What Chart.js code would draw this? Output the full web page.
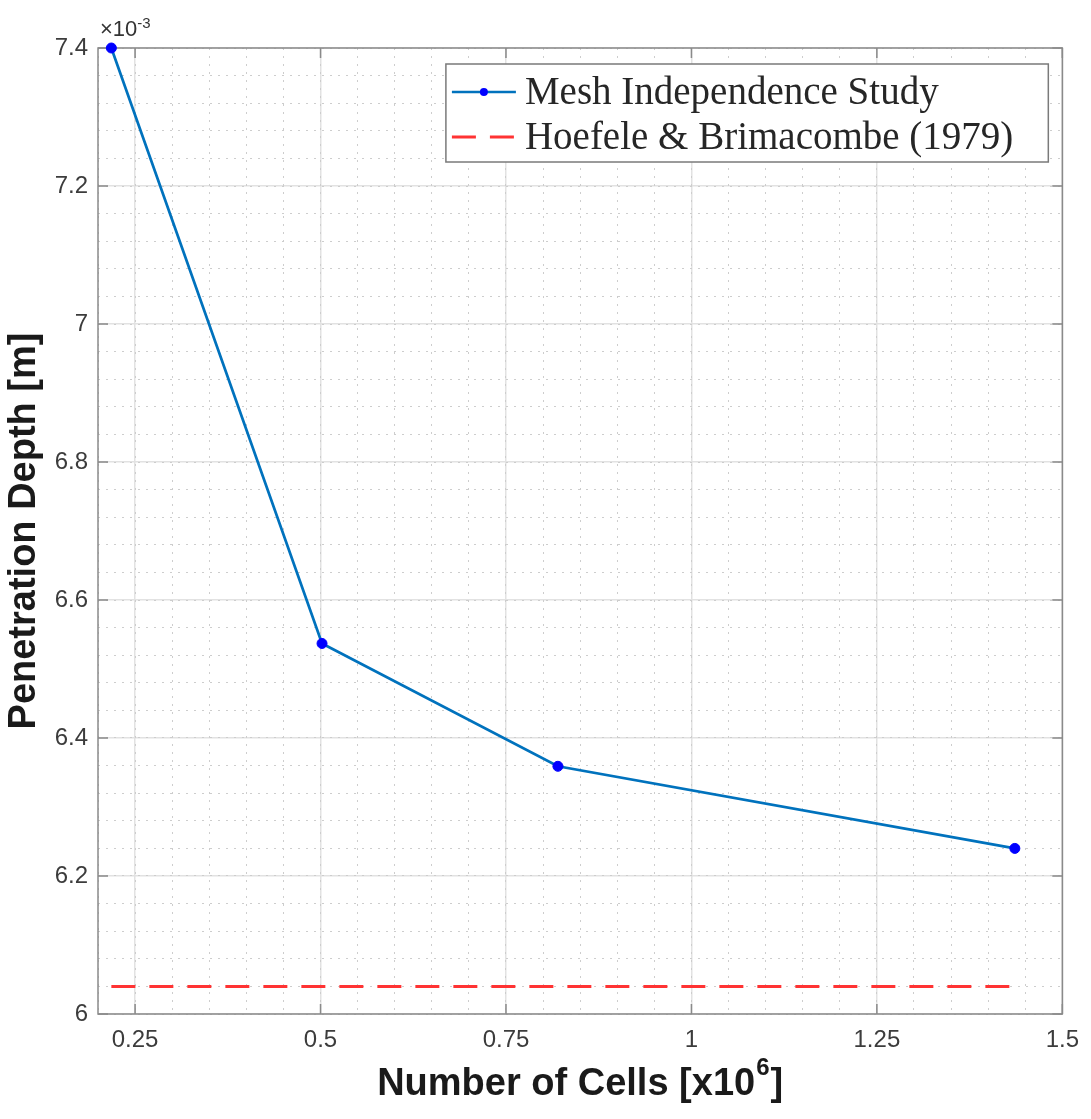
<!DOCTYPE html>
<html>
<head>
<meta charset="utf-8">
<title>Mesh Independence Study</title>
<script src="https://cdn.jsdelivr.net/npm/chart.js@4.4.1/dist/chart.umd.min.js"></script>
<style>
    html, body { margin: 0; padding: 0; background: #fff; }
    #wrap { position: relative; width: 1091px; height: 1119px; }
</style>
</head>
<body>
<div id="wrap"><canvas id="meshChart"></canvas></div>
<script>
// Number of cells [x10^6] and penetration depth [x10^-3 m]
const cellCounts = [0.218, 0.502, 0.82, 1.436];
const penetrationDepth = [7.4, 6.537, 6.359, 6.24];

// Hoefele & Brimacombe (1979) reference depth, over the same cell range
const refCells = [0.218, 1.436];
const refDepth = [6.04, 6.04];

// Tick labels
const xTickValues = [0.25, 0.5, 0.75, 1, 1.25, 1.5];
const yTickValues = [6, 6.2, 6.4, 6.6, 6.8, 7, 7.2, 7.4];

const seriesLabels = ['Mesh Independence Study', 'Hoefele & Brimacombe (1979)'];

const sansFamily = '"Liberation Sans", Arial, Helvetica, sans-serif';
const serifFamily = '"Liberation Serif", "Times New Roman", serif';

// Axes box, inward tick marks, x10^-3 exponent and the x axis title (with superscript)
const axesFrame = {
    id: 'axesFrame',
    beforeDatasetsDraw(chart) {
        const { ctx, chartArea: a, scales } = chart;
        ctx.save();
        ctx.strokeStyle = '#8a8a8a';
        ctx.lineWidth = 1.5;
        ctx.strokeRect(a.left, a.top, a.right - a.left, a.bottom - a.top);

        const len = 10;
        ctx.beginPath();
        xTickValues.forEach(v => {
            const px = scales.x.getPixelForValue(v);
            ctx.moveTo(px, a.bottom);
            ctx.lineTo(px, a.bottom - len);
            ctx.moveTo(px, a.top);
            ctx.lineTo(px, a.top + len);
        });
        yTickValues.forEach(v => {
            const py = scales.y.getPixelForValue(v);
            ctx.moveTo(a.left, py);
            ctx.lineTo(a.left + len, py);
            ctx.moveTo(a.right, py);
            ctx.lineTo(a.right - len, py);
        });
        ctx.stroke();

        // exponent label
        ctx.fillStyle = '#333';
        ctx.textBaseline = 'alphabetic';
        ctx.textAlign = 'left';
        ctx.font = '22px ' + sansFamily;
        ctx.fillText('×10', a.left + 2, a.top - 12);
        const w = ctx.measureText('×10').width;
        ctx.font = '15px ' + sansFamily;
        ctx.fillText('-3', a.left + 2 + w, a.top - 20);

        // x axis title
        const main = 'Number of Cells [x10';
        const sup = '6';
        const close = ']';
        ctx.fillStyle = '#1a1a1a';
        ctx.font = 'bold 38px ' + sansFamily;
        const wMain = ctx.measureText(main).width;
        const wClose = ctx.measureText(close).width;
        ctx.font = 'bold 24px ' + sansFamily;
        const wSup = ctx.measureText(sup).width;
        const total = wMain + wSup + wClose + 2;
        const baseY = a.bottom + 81;
        let tx = (a.left + a.right) / 2 - total / 2;
        ctx.font = 'bold 38px ' + sansFamily;
        ctx.fillText(main, tx, baseY);
        tx += wMain + 1;
        ctx.font = 'bold 24px ' + sansFamily;
        ctx.fillText(sup, tx, baseY - 20);
        tx += wSup + 1;
        ctx.font = 'bold 38px ' + sansFamily;
        ctx.fillText(close, tx, baseY);
        ctx.restore();
    }
};

// MATLAB style legend box in the upper right corner
const boxLegend = {
    id: 'boxLegend',
    afterDatasetsDraw(chart) {
        const { ctx, chartArea: a } = chart;
        const sets = chart.data.datasets;
        ctx.save();
        ctx.font = '39px ' + serifFamily;
        const textW = Math.max(...sets.map(d => ctx.measureText(d.label).width));
        const boxW = 79 + textW + 35;
        const boxH = 98;
        const bx = a.right - 14 - boxW;
        const by = a.top + 16;

        ctx.fillStyle = '#fff';
        ctx.fillRect(bx, by, boxW, boxH);
        ctx.strokeStyle = '#7a7a7a';
        ctx.lineWidth = 1.5;
        ctx.strokeRect(bx, by, boxW, boxH);

        const rows = [by + 28, by + 73];
        sets.forEach((d, i) => {
            const y = rows[i];
            ctx.strokeStyle = d.borderColor;
            ctx.lineWidth = d.borderWidth;
            ctx.setLineDash(d.borderDash || []);
            ctx.beginPath();
            ctx.moveTo(bx + 6, y);
            ctx.lineTo(bx + 70, y);
            ctx.stroke();
            ctx.setLineDash([]);
            if (d.pointRadius > 0) {
                ctx.fillStyle = d.pointBackgroundColor;
                ctx.beginPath();
                ctx.arc(bx + 38, y, 4, 0, Math.PI * 2);
                ctx.fill();
            }
            ctx.fillStyle = '#262626';
            ctx.textBaseline = 'middle';
            ctx.textAlign = 'left';
            ctx.fillText(d.label, bx + 79, y + 2);
        });
        ctx.restore();
    }
};

const ctx = document.getElementById('meshChart');
new Chart(ctx, {
    type: 'line',
    data: {
        datasets: [
            {
                label: seriesLabels[0],
                data: cellCounts.map((c, i) => ({ x: c, y: penetrationDepth[i] })),
                borderColor: '#0072bd',
                borderWidth: 2.7,
                pointRadius: 5,
                pointBackgroundColor: '#0000ff',
                pointBorderColor: '#0000ff',
                pointBorderWidth: 1,
                tension: 0,
                fill: false,
                clip: false
            },
            {
                label: seriesLabels[1],
                data: refCells.map((c, i) => ({ x: c, y: refDepth[i] })),
                borderColor: '#ff3333',
                borderWidth: 3,
                borderDash: [24, 14],
                pointRadius: 0,
                tension: 0,
                fill: false
            }
        ]
    },
    options: {
        responsive: true,
        maintainAspectRatio: false,
        animation: false,
        layout: {
            padding: { top: 48, right: 28, left: 0, bottom: 0 }
        },
        plugins: {
            legend: { display: false },
            tooltip: { enabled: false }
        },
        scales: {
            x: {
                type: 'linear',
                position: 'bottom',
                min: 0.2,
                max: 1.5,
                afterBuildTicks: s => { s.ticks = xTickValues.map(v => ({ value: v })); },
                afterFit: s => { s.height = 105; },
                grid: { color: '#e2e2e2', lineWidth: 1.5, drawTicks: false },
                border: { display: false },
                ticks: {
                    padding: 12,
                    color: '#3c3c3c',
                    autoSkip: false,
                    maxRotation: 0,
                    font: { family: sansFamily, size: 24 },
                    callback: v => String(v)
                },
                title: { display: false }
            },
            y: {
                type: 'linear',
                position: 'left',
                min: 6,
                max: 7.4,
                afterBuildTicks: s => { s.ticks = yTickValues.map(v => ({ value: v })); },
                afterFit: s => { s.width = 98; },
                grid: { color: '#e2e2e2', lineWidth: 1.5, drawTicks: false },
                border: { display: false },
                ticks: {
                    padding: 10,
                    color: '#3c3c3c',
                    autoSkip: false,
                    font: { family: sansFamily, size: 24 },
                    callback: v => String(v)
                },
                title: {
                    display: true,
                    text: 'Penetration Depth [m]',
                    color: '#1a1a1a',
                    font: { family: sansFamily, size: 38, weight: 'bold' },
                    padding: { top: 2, bottom: 0 }
                }
            },
            // minor grid (dotted)
            xMinor: {
                type: 'linear',
                position: 'top',
                min: 0.2,
                max: 1.5,
                afterFit: s => { s.height = 0; },
                ticks: { display: false, stepSize: 0.05 },
                grid: { color: '#cdcdcd', lineWidth: 1, drawTicks: false, borderDash: [2, 6] },
                border: { display: false, dash: [2, 6] }
            },
            yMinor: {
                type: 'linear',
                position: 'right',
                min: 6,
                max: 7.4,
                afterFit: s => { s.width = 0; },
                ticks: { display: false, stepSize: 0.04 },
                grid: { color: '#cdcdcd', lineWidth: 1, drawTicks: false, borderDash: [2, 6] },
                border: { display: false, dash: [2, 6] }
            }
        }
    },
    plugins: [axesFrame, boxLegend]
});
</script>
</body>
</html>
